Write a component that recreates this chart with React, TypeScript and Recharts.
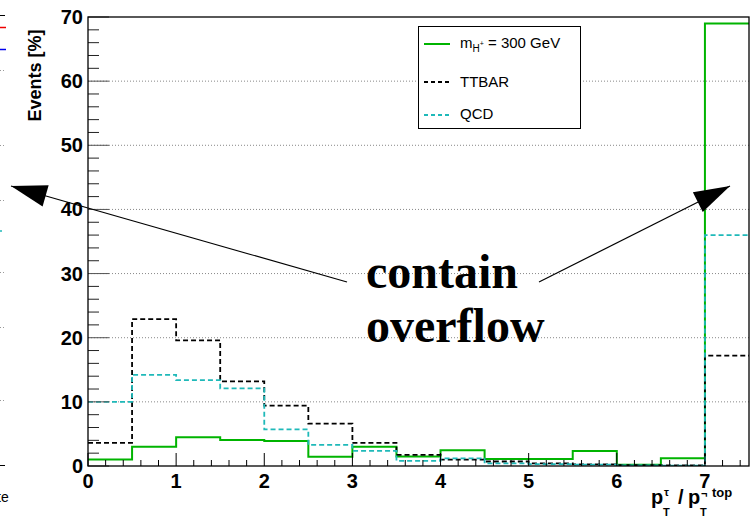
import React from 'react';
import { ComposedChart, Line, XAxis, YAxis, ReferenceLine } from 'recharts';

// bin lower edges (bin width 0.5), final entry is the upper edge of the last bin
const binEdges = [0, 0.5, 1, 1.5, 2, 2.5, 3, 3.5, 4, 4.5, 5, 5.5, 6, 6.5, 7, 7.5];
// Events [%] per bin
const signalH300 = [1.0, 3.0, 4.5, 4.05, 3.9, 1.45, 3.0, 1.5, 2.45, 1.1, 1.1, 2.35, 0.2, 1.2, 69.0];
const ttbarBkg = [3.6, 22.9, 19.6, 13.2, 9.4, 6.6, 3.6, 1.75, 1.0, 0.7, 0.4, 0.25, 0.15, 0.1, 17.2];
const qcdBkg = [10.0, 14.2, 13.4, 12.1, 5.7, 3.3, 2.35, 0.8, 1.2, 0.4, 0.3, 0.2, 0.1, 0.05, 36.0];

const xTicks = [0, 0.2, 0.4, 0.6, 0.8, 1, 1.2, 1.4, 1.6, 1.8, 2, 2.2, 2.4, 2.6, 2.8, 3, 3.2, 3.4, 3.6, 3.8,
  4, 4.2, 4.4, 4.6, 4.8, 5, 5.2, 5.4, 5.6, 5.8, 6, 6.2, 6.4, 6.6, 6.8, 7, 7.2, 7.4];
const yTicks = [0, 2, 4, 6, 8, 10, 12, 14, 16, 18, 20, 22, 24, 26, 28, 30, 32, 34, 36, 38, 40,
  42, 44, 46, 48, 50, 52, 54, 56, 58, 60, 62, 64, 66, 68, 70];
const yGrid = [10, 20, 30, 40, 50, 60];

const data = binEdges.map((x, i) => {
  const k = Math.min(i, signalH300.length - 1);
  return { x, signal: signalH300[k], ttbar: ttbarBkg[k], qcd: qcdBkg[k] };
});

const TICK_FONT = '"Liberation Sans", Arial, sans-serif';
const SERIF = '"Liberation Serif", "Times New Roman", serif';

const isMajor = (v: number, step: number) => Math.abs(v / step - Math.round(v / step)) < 1e-6;

const XTick = (props: any) => {
  const { x, y, payload } = props;
  const v = payload.value as number;
  const major = isMajor(v, 1);
  return (
    <g>
      <line x1={x} x2={x} y1={y} y2={y - (major ? 13 : 6)} stroke="#000" strokeWidth={1} />
      {major && (
        <text x={x} y={y + 22} textAnchor="middle" fontFamily={TICK_FONT} fontWeight="bold" fontSize={20} fill="#000">
          {Math.round(v)}
        </text>
      )}
    </g>
  );
};

const YTick = (props: any) => {
  const { x, y, payload } = props;
  const v = payload.value as number;
  const major = isMajor(v, 10);
  return (
    <g>
      <line x1={x} x2={x + (major ? 21 : 11)} y1={y} y2={y} stroke={major ? '#555' : '#222'} strokeWidth={1} />
      {major && (
        <text x={x - 5} y={y + 7} textAnchor="end" fontFamily={TICK_FONT} fontWeight="bold" fontSize={20} fill="#000">
          {Math.round(v)}
        </text>
      )}
    </g>
  );
};

function arrowHead(tail: [number, number], tip: [number, number], len: number, half: number) {
  const dx = tail[0] - tip[0];
  const dy = tail[1] - tip[1];
  const d = Math.hypot(dx, dy);
  const ux = dx / d, uy = dy / d;
  const bx = tip[0] + ux * len, by = tip[1] + uy * len;
  const px = -uy * half, py = ux * half;
  return `${tip[0]},${tip[1]} ${bx + px},${by + py} ${bx - px},${by - py}`;
}

const leftTail: [number, number] = [347, 282];
const leftTip: [number, number] = [11, 186];
const rightTail: [number, number] = [539, 282];
const rightTip: [number, number] = [730, 186];

export default function App() {
  return (
    <div style={{ position: 'absolute', left: 0, top: 0, width: 756, height: 522, background: '#fff', overflow: 'hidden' }}>
      <ComposedChart width={756} height={522} data={data} margin={{ top: 17, right: 7, bottom: 0, left: 0 }}>
        <XAxis
          dataKey="x"
          type="number"
          domain={[0, 7.5]}
          ticks={xTicks}
          interval={0}
          height={56}
          axisLine={false}
          tickLine={false}
          tickSize={0}
          tickMargin={0}
          tick={(p: any) => <XTick {...p} />}
          allowDataOverflow
        />
        <YAxis
          type="number"
          domain={[0, 70]}
          ticks={yTicks}
          interval={0}
          width={88}
          axisLine={false}
          tickLine={false}
          tickSize={0}
          tickMargin={0}
          tick={(p: any) => <YTick {...p} />}
          allowDataOverflow
        />
        {yGrid.map((v) => (
          <ReferenceLine key={v} y={v} stroke="#888" strokeWidth={1} strokeDasharray="1 2" />
        ))}
        <Line dataKey="signal" type="stepAfter" stroke="#00b400" strokeWidth={2} dot={false} isAnimationActive={false} />
        <Line dataKey="ttbar" type="stepAfter" stroke="#000" strokeWidth={1.8} strokeDasharray="5 3" dot={false} isAnimationActive={false} />
        <Line dataKey="qcd" type="stepAfter" stroke="#1fb9b9" strokeWidth={1.8} strokeDasharray="5 3" dot={false} isAnimationActive={false} />
      </ComposedChart>
      <svg width={756} height={522} style={{ position: 'absolute', left: 0, top: 0, pointerEvents: 'none' }}>
        {/* neighbouring-plot remnants on the far left */}
        <line x1={0} x2={5} y1={15.5} y2={15.5} stroke="#000" />
        <line x1={0} x2={6} y1={27.5} y2={27.5} stroke="#e00" strokeWidth={1.5} />
        <line x1={0} x2={6} y1={49.5} y2={49.5} stroke="#00e" strokeWidth={1.5} />
        {[70, 145, 200, 272, 327, 400].map((yy) => (
          <line key={yy} x1={0} x2={5} y1={yy + 0.5} y2={yy + 0.5} stroke="#999" strokeDasharray="1 2" />
        ))}
        <line x1={0} x2={2} y1={231} y2={231} stroke="#1fb9b9" strokeWidth={1.5} />
        <line x1={0} x2={5} y1={465.5} y2={465.5} stroke="#000" />
        <text x={-3} y={502} fontFamily={TICK_FONT} fontSize={14} fill="#000">te</text>

        {/* frame */}
        <rect x={88} y={17} width={661} height={449} fill="none" stroke="#000" strokeWidth={1.3} />

        {/* y axis title */}
        <text
          x={41}
          y={75.5}
          transform="rotate(-90 41 75.5)"
          textAnchor="middle"
          fontFamily={TICK_FONT}
          fontWeight="bold"
          fontSize={18}
          fill="#000"
        >
          Events [%]
        </text>

        {/* x axis title */}
        <g fontFamily={TICK_FONT} fontWeight="bold" fill="#000">
          <text x={651} y={504} fontSize={20}>p</text>
          <text x={663} y={516} fontSize={11}>T</text>
          <text x={664} y={496} fontSize={11}>τ</text>
          <text x={678} y={504} fontSize={20}>/</text>
          <text x={688} y={504} fontSize={20}>p</text>
          <text x={700} y={516} fontSize={11}>T</text>
          <text x={701} y={497} fontSize={11}>¬</text>
          <text x={712} y={497} fontSize={13}>top</text>
        </g>

        {/* annotation */}
        <line x1={leftTail[0]} y1={leftTail[1]} x2={leftTip[0]} y2={leftTip[1]} stroke="#000" strokeWidth={1.2} />
        <polygon points={arrowHead(leftTail, leftTip, 36, 11)} fill="#000" />
        <line x1={rightTail[0]} y1={rightTail[1]} x2={rightTip[0]} y2={rightTip[1]} stroke="#000" strokeWidth={1.2} />
        <polygon points={arrowHead(rightTail, rightTip, 36, 11)} fill="#000" />
        <text x={366} y={288} fontFamily={SERIF} fontWeight="bold" fontSize={48} fill="#000">
          contain
        </text>
        <text x={366} y={342} fontFamily={SERIF} fontWeight="bold" fontSize={48} fill="#000">
          overflow
        </text>

        {/* legend */}
        <rect x={418.5} y={26.5} width={162} height={102} fill="#fff" stroke="#000" strokeWidth={1} />
        <line x1={424} x2={450} y1={44} y2={44} stroke="#00b400" strokeWidth={2} />
        <line x1={424} x2={450} y1={82} y2={82} stroke="#000" strokeWidth={1.8} strokeDasharray="4 3" />
        <line x1={424} x2={450} y1={115} y2={115} stroke="#1fb9b9" strokeWidth={1.8} strokeDasharray="4 3" />
        <text x={460} y={48} fontFamily={TICK_FONT} fontSize={15} fill="#000">
          m
          <tspan fontSize={10} dy={4}>H</tspan>
          <tspan fontSize={7} dy={-6}>+</tspan>
          <tspan dy={2}> = 300 GeV</tspan>
        </text>
        <text x={460} y={87} fontFamily={TICK_FONT} fontSize={15} fill="#000">TTBAR</text>
        <text x={460} y={119} fontFamily={TICK_FONT} fontSize={15} fill="#000">QCD</text>
      </svg>
    </div>
  );
}
